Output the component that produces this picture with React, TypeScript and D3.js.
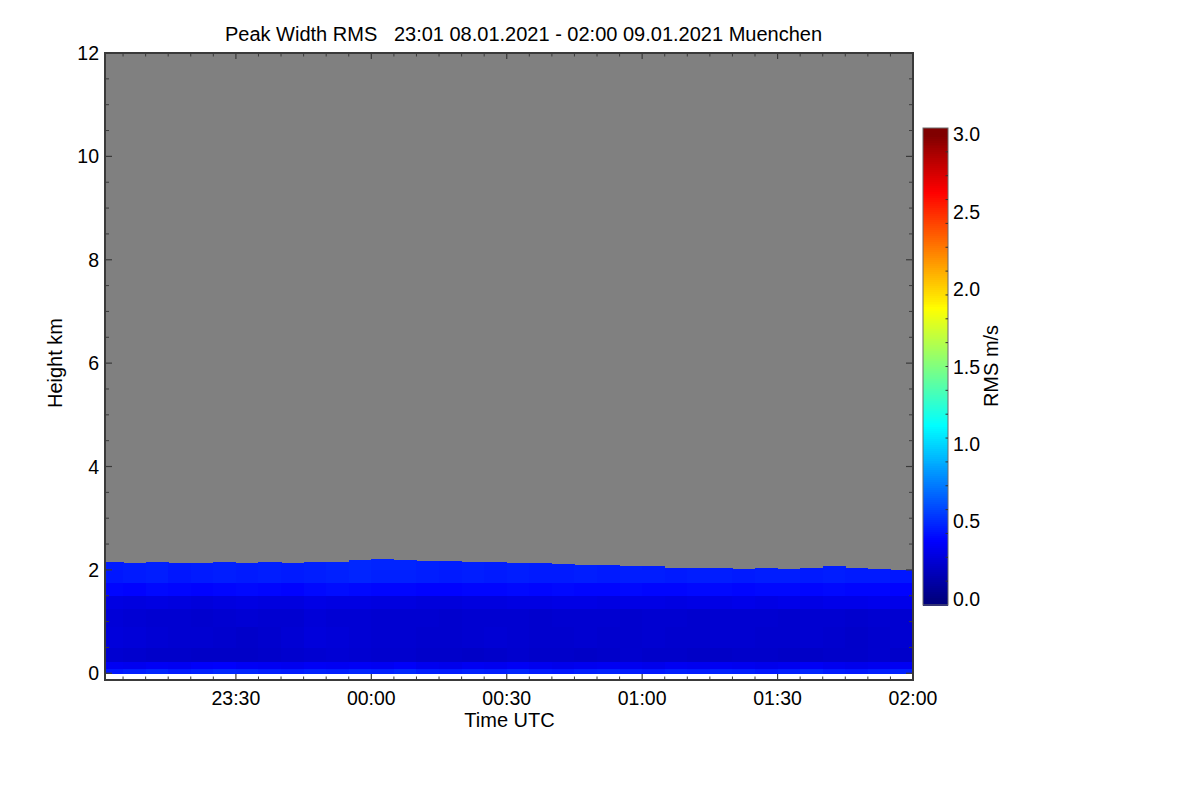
import React from "react";
import * as d3 from "d3";

// time is in minutes relative to 00:00 UTC 09.01.2021
const tStart = -59;
const tEnd = 120;
const majorTimes = [-30, 0, 30, 60, 90, 120];
const majorLabels = ["23:30", "00:00", "00:30", "01:00", "01:30", "02:00"];

const heightTicks = [0, 2, 4, 6, 8, 10, 12];
const rmsTicks = [0, 0.5, 1.0, 1.5, 2.0, 2.5, 3.0];

// 5-minute columns, 23:00 ... 01:55
const colStartMin = d3.range(-60, 120, 5);

// top of valid data (km) per column
const topKm = [
  2.15, 2.14, 2.15, 2.13, 2.14, 2.15, 2.14, 2.16, 2.14, 2.15, 2.16, 2.2,
  2.22, 2.2, 2.17, 2.17, 2.16, 2.16, 2.14, 2.14, 2.12, 2.09, 2.09, 2.08,
  2.08, 2.04, 2.03, 2.03, 2.02, 2.03, 2.02, 2.04, 2.07, 2.04, 2.01, 2.0,
];

// height bands (km)
const bandEdges = [0, 0.1, 0.22, 0.5, 0.9, 1.25, 1.5, 1.75, 2.0, 2.4];

// RMS (m/s) per band, per column
const rmsSurface = [
  0.44, 0.46, 0.48, 0.45, 0.47, 0.49, 0.48, 0.46, 0.45, 0.47, 0.46, 0.48,
  0.47, 0.49, 0.46, 0.45, 0.47, 0.46, 0.48, 0.45, 0.44, 0.46, 0.47, 0.45,
  0.44, 0.46, 0.45, 0.47, 0.46, 0.44, 0.46, 0.48, 0.45, 0.44, 0.46, 0.47,
];
const rmsNearGround = [
  0.34, 0.33, 0.35, 0.34, 0.36, 0.37, 0.35, 0.34, 0.33, 0.35, 0.34, 0.35,
  0.34, 0.36, 0.33, 0.32, 0.34, 0.33, 0.35, 0.33, 0.32, 0.33, 0.34, 0.33,
  0.32, 0.34, 0.33, 0.34, 0.33, 0.32, 0.33, 0.35, 0.33, 0.32, 0.33, 0.34,
];
const rmsLow = [
  0.24, 0.23, 0.22, 0.22, 0.21, 0.21, 0.21, 0.22, 0.23, 0.24, 0.25, 0.24,
  0.23, 0.23, 0.22, 0.22, 0.21, 0.22, 0.23, 0.22, 0.22, 0.21, 0.22, 0.23,
  0.22, 0.22, 0.21, 0.21, 0.22, 0.22, 0.21, 0.21, 0.22, 0.22, 0.23, 0.22,
];
const rmsMidLow = [
  0.27, 0.26, 0.25, 0.24, 0.24, 0.23, 0.22, 0.23, 0.25, 0.27, 0.26, 0.25,
  0.24, 0.24, 0.23, 0.23, 0.24, 0.25, 0.24, 0.23, 0.23, 0.24, 0.23, 0.23,
  0.24, 0.23, 0.23, 0.24, 0.24, 0.23, 0.23, 0.24, 0.23, 0.22, 0.23, 0.24,
];
const rmsMid = [
  0.26, 0.25, 0.24, 0.24, 0.23, 0.24, 0.25, 0.24, 0.24, 0.26, 0.25, 0.25,
  0.24, 0.24, 0.24, 0.23, 0.24, 0.24, 0.24, 0.23, 0.24, 0.24, 0.24, 0.23,
  0.24, 0.24, 0.23, 0.24, 0.24, 0.24, 0.23, 0.24, 0.24, 0.23, 0.24, 0.24,
];
const rmsMidHigh = [
  0.29, 0.28, 0.29, 0.28, 0.27, 0.28, 0.29, 0.28, 0.28, 0.3, 0.29, 0.29,
  0.28, 0.28, 0.27, 0.27, 0.28, 0.28, 0.29, 0.29, 0.3, 0.3, 0.29, 0.3,
  0.3, 0.29, 0.3, 0.3, 0.31, 0.3, 0.31, 0.3, 0.31, 0.31, 0.32, 0.31,
];
const rmsUpperLow = [
  0.39, 0.38, 0.4, 0.39, 0.38, 0.39, 0.4, 0.39, 0.38, 0.4, 0.41, 0.4,
  0.39, 0.39, 0.38, 0.38, 0.39, 0.39, 0.4, 0.39, 0.4, 0.39, 0.39, 0.4,
  0.39, 0.39, 0.4, 0.4, 0.39, 0.4, 0.4, 0.39, 0.4, 0.39, 0.39, 0.38,
];
const rmsUpper = [
  0.44, 0.45, 0.46, 0.44, 0.45, 0.46, 0.45, 0.46, 0.45, 0.46, 0.47, 0.48,
  0.47, 0.47, 0.46, 0.45, 0.46, 0.45, 0.46, 0.45, 0.45, 0.46, 0.45, 0.46,
  0.46, 0.45, 0.46, 0.46, 0.45, 0.46, 0.46, 0.45, 0.46, 0.45, 0.45, 0.44,
];
const rmsTop = [
  0.45, 0.46, 0.47, 0.45, 0.46, 0.47, 0.46, 0.47, 0.46, 0.47, 0.48, 0.49,
  0.48, 0.48, 0.47, 0.46, 0.47, 0.46, 0.47, 0.46, 0.46, 0.47, 0.46, 0.47,
  0.46, 0.45, 0.46, 0.46, 0.45, 0.46, 0.46, 0.45, 0.46, 0.45, 0.45, 0.44,
];
const rmsBands = [
  rmsSurface, rmsNearGround, rmsLow, rmsMidLow, rmsMid,
  rmsMidHigh, rmsUpperLow, rmsUpper, rmsTop,
];

const font = "'Liberation Sans', Arial, Helvetica, sans-serif";
const axisColor = "#3a3a3a";

const x = d3.scaleLinear().domain([tStart, tEnd]).range([105, 913]);
const y = d3.scaleLinear().domain([-0.13, 12]).range([680, 53]);
const cy = d3.scaleLinear().domain([-0.04, 3.04]).range([605, 128]);

function jet(v: number) {
  const f = Math.max(0, Math.min(1, v / 3));
  const c = (t: number) => Math.round(255 * Math.max(0, Math.min(1, t)));
  return d3
    .rgb(c(1.5 - Math.abs(4 * f - 3)), c(1.5 - Math.abs(4 * f - 2)), c(1.5 - Math.abs(4 * f - 1)))
    .formatHex();
}

export default function App() {
  const x0 = x.range()[0];
  const x1 = x.range()[1];
  const yTop = y.range()[1];
  const yBot = y.range()[0];

  const cells: React.ReactNode[] = [];
  rmsBands.forEach((vals, j) => {
    colStartMin.forEach((t, i) => {
      const lo = bandEdges[j];
      const hi = Math.min(bandEdges[j + 1], topKm[i]);
      if (hi <= lo) return;
      const a = Math.max(t, tStart);
      const b = Math.min(t + 5, tEnd);
      cells.push(
        <rect
          key={`c${j}-${i}`}
          x={x(a)}
          y={y(hi)}
          width={x(b) - x(a) + 0.5}
          height={y(lo) - y(hi) + 0.5}
          fill={jet(vals[i])}
        />
      );
    });
  });

  const minorTimes = d3.range(-55, 121, 5).filter((t) => t % 30 !== 0);
  const minorHeights = d3.range(0, 12.01, 0.5).filter((h) => h % 2 !== 0);

  const barX = 923;
  const barW = 25;
  const barSteps = d3.range(0, 240);
  const barLo = cy.domain()[0];
  const barHi = cy.domain()[1];

  return (
    <svg
      width={1200}
      height={800}
      style={{ display: "block", position: "absolute", left: 0, top: 0, background: "#fff" }}
      fontFamily={font}
    >
      <text x={523.5} y={41} fontSize={20} textAnchor="middle" xmlSpace="preserve" style={{ whiteSpace: "pre" }}>
        {"Peak Width RMS   23:01 08.01.2021 - 02:00 09.01.2021 Muenchen"}
      </text>

      {/* no-data background */}
      <rect x={x0} y={y(12)} width={x1 - x0} height={y(0) - y(12)} fill="#808080" />
      <g shapeRendering="crispEdges">{cells}</g>

      {/* frame */}
      <rect x={x0} y={yTop} width={x1 - x0} height={yBot - yTop} fill="none" stroke={axisColor} strokeWidth={2} />

      {/* x ticks bottom and top */}
      {majorTimes.map((t) => (
        <g key={`mt${t}`} stroke={axisColor} strokeWidth={1.2}>
          <line x1={x(t)} x2={x(t)} y1={yBot} y2={yBot - 6} />
          <line x1={x(t)} x2={x(t)} y1={yTop} y2={yTop + 6} />
        </g>
      ))}
      {minorTimes.map((t) => (
        <g key={`nt${t}`} stroke={axisColor} strokeWidth={1}>
          <line x1={x(t)} x2={x(t)} y1={yBot} y2={yBot - 3.5} />
          <line x1={x(t)} x2={x(t)} y1={yTop} y2={yTop + 3.5} />
        </g>
      ))}
      {majorTimes.map((t, i) => (
        <text key={`lt${t}`} x={x(t)} y={705} fontSize={19.5} textAnchor="middle">
          {majorLabels[i]}
        </text>
      ))}
      <text x={509.5} y={727} fontSize={20} textAnchor="middle">
        Time UTC
      </text>

      {/* y ticks left and right */}
      {heightTicks.map((h) => (
        <g key={`mh${h}`} stroke={axisColor} strokeWidth={1.2}>
          <line x1={x0} x2={x0 + 7} y1={y(h)} y2={y(h)} />
          <line x1={x1} x2={x1 - 7} y1={y(h)} y2={y(h)} />
        </g>
      ))}
      {minorHeights.map((h) => (
        <g key={`nh${h}`} stroke={axisColor} strokeWidth={1}>
          <line x1={x0} x2={x0 + 4} y1={y(h)} y2={y(h)} />
          <line x1={x1} x2={x1 - 4} y1={y(h)} y2={y(h)} />
        </g>
      ))}
      {heightTicks.map((h) => (
        <text key={`lh${h}`} x={99} y={y(h) + 7} fontSize={19.5} textAnchor="end">
          {h}
        </text>
      ))}
      <text transform="translate(62,363) rotate(-90)" fontSize={20} textAnchor="middle">
        Height km
      </text>

      {/* colour bar */}
      <g shapeRendering="crispEdges">
        {barSteps.map((k) => {
          const v0 = barLo + ((barHi - barLo) * k) / barSteps.length;
          const v1 = barLo + ((barHi - barLo) * (k + 1)) / barSteps.length;
          return (
            <rect
              key={`b${k}`}
              x={barX}
              y={cy(v1)}
              width={barW}
              height={cy(v0) - cy(v1) + 0.6}
              fill={jet((v0 + v1) / 2)}
            />
          );
        })}
      </g>
      <rect x={barX} y={cy(barHi)} width={barW} height={cy(barLo) - cy(barHi)} fill="none" stroke="#6a6a6a" strokeWidth={1} />
      {d3.range(1, 20).map((k) => {
        const yy = cy(barHi) + ((cy(barLo) - cy(barHi)) * k) / 20;
        return <line key={`bt${k}`} x1={barX + barW} x2={barX + barW - 2.5} y1={yy} y2={yy} stroke="#333" strokeWidth={1} />;
      })}
      {rmsTicks.map((v) => (
        <text key={`lr${v}`} x={953} y={cy(v) + 7} fontSize={19.5}>
          {v.toFixed(1)}
        </text>
      ))}
      <text transform="translate(998,366) rotate(-90)" fontSize={20} textAnchor="middle">
        RMS m/s
      </text>
    </svg>
  );
}
